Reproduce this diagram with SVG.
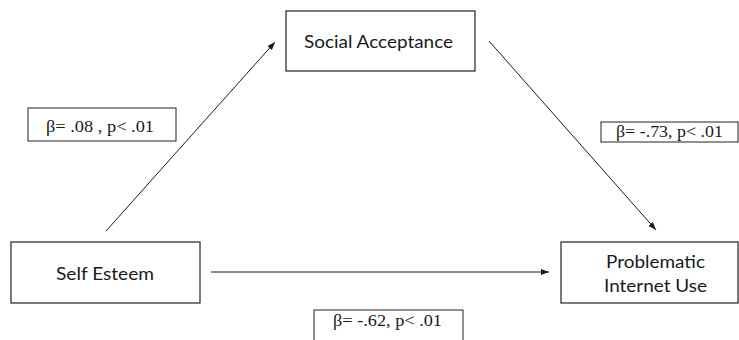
<svg xmlns="http://www.w3.org/2000/svg" width="739" height="340" viewBox="0 0 739 340">
<style>
.box{fill:#fff;stroke:#222;stroke-width:1.2}
.lbl{fill:#fff;stroke:#222;stroke-width:1}
.node{font-family:Lato,"Open Sans","Liberation Sans",sans-serif;font-size:17px;fill:#1a1a1a}
.stat{font-family:"Liberation Serif","DejaVu Serif",serif;font-size:16px;fill:#1a1a1a}
.edge{stroke:#1a1a1a;stroke-width:1;fill:none;marker-end:url(#ah)}
</style>
<defs>
<marker id="ah" markerUnits="userSpaceOnUse" markerWidth="9" markerHeight="7" refX="8" refY="3" orient="auto">
<path d="M0,0 L8,3 L0,6 z" fill="#1a1a1a"/>
</marker>
</defs>
<rect width="739" height="340" fill="#fff"/>
<g id="connectors">
<line class="edge" x1="106" y1="231" x2="275" y2="42"/>
<line class="edge" x1="489" y1="41" x2="656" y2="230"/>
<line class="edge" x1="211" y1="272" x2="549" y2="272"/>
</g>
<g id="social-acceptance">
<rect class="box" x="286" y="11" width="189" height="60"/>
<text class="node" x="304" y="48" textLength="149" lengthAdjust="spacingAndGlyphs">Social Acceptance</text>
</g>
<g id="self-esteem">
<rect class="box" x="11" y="242" width="189" height="61"/>
<text class="node" x="56" y="280" textLength="98" lengthAdjust="spacingAndGlyphs">Self Esteem</text>
</g>
<g id="problematic-internet-use">
<rect class="box" x="561" y="242" width="177" height="61"/>
<text class="node" x="606" y="268" textLength="99" lengthAdjust="spacingAndGlyphs">Problematic</text>
<text class="node" x="604" y="292" textLength="103" lengthAdjust="spacingAndGlyphs">Internet Use</text>
</g>
<g id="label-a">
<rect class="lbl" x="28" y="108" width="148" height="33"/>
<text class="stat" x="46" y="132" textLength="108" lengthAdjust="spacingAndGlyphs">β= .08 , p&lt; .01</text>
</g>
<g id="label-b">
<rect class="lbl" x="601" y="122" width="137" height="20"/>
<text class="stat" x="616" y="137" textLength="107" lengthAdjust="spacingAndGlyphs">β= -.73, p&lt; .01</text>
</g>
<g id="label-c">
<rect class="lbl" x="314" y="310" width="149" height="40"/>
<text class="stat" x="333" y="326" textLength="109" lengthAdjust="spacingAndGlyphs">β= -.62, p&lt; .01</text>
</g>
</svg>
